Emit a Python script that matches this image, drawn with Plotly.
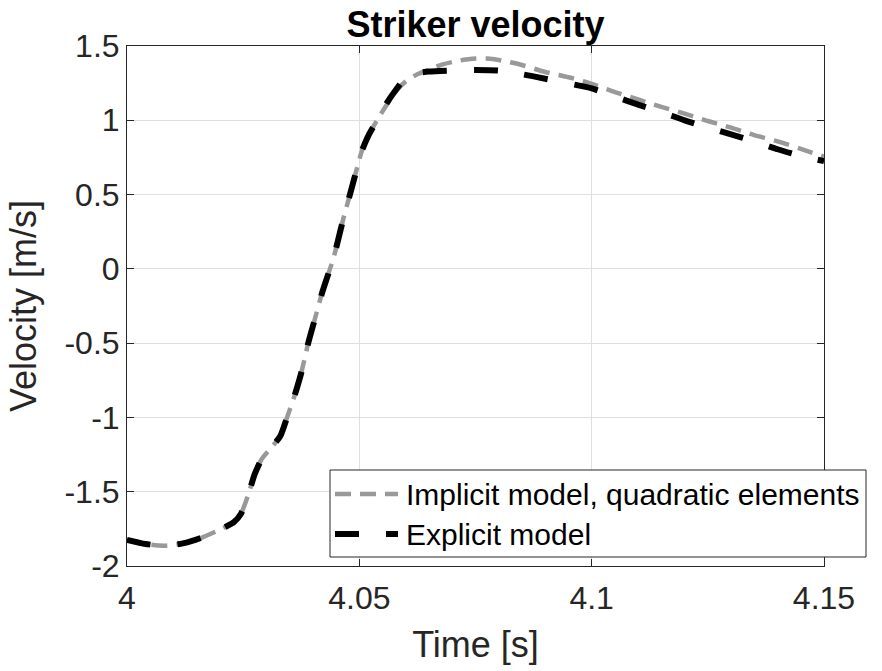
import plotly.graph_objects as go

# Striker velocity over time for two FE models
t_explicit = [4.000, 4.004, 4.008, 4.012, 4.016, 4.020, 4.023, 4.0245, 4.026, 4.0275,
              4.029, 4.031, 4.033, 4.0345, 4.036, 4.0375, 4.039, 4.0405, 4.042, 4.0445,
              4.0465, 4.0485, 4.0505, 4.052, 4.054, 4.056, 4.058, 4.060, 4.0625, 4.065,
              4.070, 4.075, 4.080, 4.085, 4.090, 4.095, 4.100, 4.105, 4.110, 4.115,
              4.120, 4.125, 4.130, 4.135, 4.140, 4.145, 4.150]
v_explicit = [-1.824, -1.852, -1.863, -1.848, -1.810, -1.755, -1.705, -1.650, -1.530, -1.380,
              -1.280, -1.205, -1.125, -0.995, -0.860, -0.700, -0.500, -0.330, -0.160, 0.080,
              0.330, 0.560, 0.790, 0.900, 1.010, 1.120, 1.210, 1.290, 1.318, 1.328,
              1.335, 1.338, 1.334, 1.310, 1.280, 1.248, 1.215, 1.160, 1.105, 1.055,
              1.000, 0.952, 0.905, 0.858, 0.805, 0.760, 0.725]

t_implicit = [4.000, 4.004, 4.008, 4.012, 4.016, 4.020, 4.023, 4.0245, 4.026, 4.0275,
              4.029, 4.031, 4.033, 4.0345, 4.036, 4.0375, 4.039, 4.0405, 4.042, 4.0445,
              4.0465, 4.0485, 4.0505, 4.052, 4.054, 4.056, 4.058, 4.060, 4.0625, 4.065,
              4.0675, 4.070, 4.0725, 4.075, 4.0775, 4.080, 4.085, 4.090, 4.095, 4.100,
              4.105, 4.110, 4.115, 4.120, 4.125, 4.130, 4.135, 4.140, 4.145, 4.150]
v_implicit = [-1.824, -1.852, -1.863, -1.848, -1.810, -1.755, -1.705, -1.650, -1.530, -1.380,
              -1.280, -1.205, -1.125, -0.995, -0.860, -0.700, -0.500, -0.330, -0.160, 0.080,
              0.330, 0.560, 0.790, 0.900, 1.010, 1.110, 1.200, 1.262, 1.310, 1.340,
              1.372, 1.392, 1.407, 1.416, 1.416, 1.406, 1.372, 1.325, 1.290, 1.245,
              1.190, 1.140, 1.090, 1.045, 0.995, 0.950, 0.900, 0.858, 0.808, 0.755]

x_ticks = [4.0, 4.05, 4.1, 4.15]
x_tick_text = ["4", "4.05", "4.1", "4.15"]
y_ticks = [-2.0, -1.5, -1.0, -0.5, 0.0, 0.5, 1.0, 1.5]
y_tick_text = ["-2", "-1.5", "-1", "-0.5", "0", "0.5", "1", "1.5"]

series_names = ["Implicit model, quadratic elements", "Explicit model"]
series_colors = ["#999999", "#000000"]
series_widths = [4.5, 6]
series_dash = ["16px,9px", "24px,27px"]

FONT = "Liberation Sans, Arial, Helvetica, sans-serif"
AXIS_COLOR = "#262626"
GRID_COLOR = "#dfdfdf"

W, H = 882, 671
ML, MR, MT, MB = 127, 58, 46, 105
PW, PH = W - ML - MR, H - MT - MB

fig = go.Figure()
for ts, vs, name, col, lw, dsh in zip([t_implicit, t_explicit], [v_implicit, v_explicit],
                                      series_names, series_colors, series_widths, series_dash):
    fig.add_trace(go.Scatter(x=ts, y=vs, mode="lines", name=name, showlegend=False,
                             line=dict(color=col, width=lw, dash=dsh, shape="spline",
                                       smoothing=0.6)))


def px_x(p):
    return (p - ML) / PW


def px_y(p):
    return (H - MB - p) / PH


# Legend box drawn in the lower right, overhanging the axes
shapes = [dict(type="rect", xref="paper", yref="paper",
               x0=px_x(330), x1=px_x(866), y0=px_y(557), y1=px_y(470),
               line=dict(color=AXIS_COLOR, width=1), fillcolor="white", layer="above")]
annotations = []
for i, (name, col, lw, dsh) in enumerate(zip(series_names, series_colors, series_widths, series_dash)):
    ypos = px_y(494 + 40 * i)
    shapes.append(dict(type="line", xref="paper", yref="paper",
                       x0=px_x(335), x1=px_x(398), y0=ypos, y1=ypos,
                       line=dict(color=col, width=lw, dash=dsh), layer="above"))
    annotations.append(dict(xref="paper", yref="paper", x=px_x(404), y=ypos,
                            xanchor="left", yanchor="middle", text=name, showarrow=False,
                            font=dict(family=FONT, size=30, color="#000000")))

axis_common = dict(showline=True, linecolor=AXIS_COLOR, linewidth=1, mirror="ticks",
                   ticks="inside", ticklen=7, tickcolor=AXIS_COLOR, showgrid=True,
                   gridcolor=GRID_COLOR, gridwidth=1, zeroline=False,
                   tickfont=dict(family=FONT, size=32, color=AXIS_COLOR))

fig.update_layout(
    width=W, height=H, autosize=False,
    margin=dict(l=ML, r=MR, t=MT, b=MB),
    paper_bgcolor="white", plot_bgcolor="white",
    title=dict(text="<b>Striker velocity</b>", x=0.5, xref="paper", xanchor="center",
               yref="container", y=1 - 24 / H, yanchor="middle",
               font=dict(family=FONT, size=36, color="#000000")),
    xaxis=dict(range=[4.0, 4.15], tickvals=x_ticks, ticktext=x_tick_text,
               ticklabelstandoff=4,
               title=dict(text="Time [s]", standoff=16,
                          font=dict(family=FONT, size=36, color=AXIS_COLOR)),
               **axis_common),
    yaxis=dict(range=[-2.0, 1.5], tickvals=y_ticks, ticktext=y_tick_text,
               title=dict(text="Velocity [m/s]", standoff=16,
                          font=dict(family=FONT, size=36, color=AXIS_COLOR)),
               **axis_common),
    shapes=shapes, annotations=annotations,
)

fig.write_html("out.html")
